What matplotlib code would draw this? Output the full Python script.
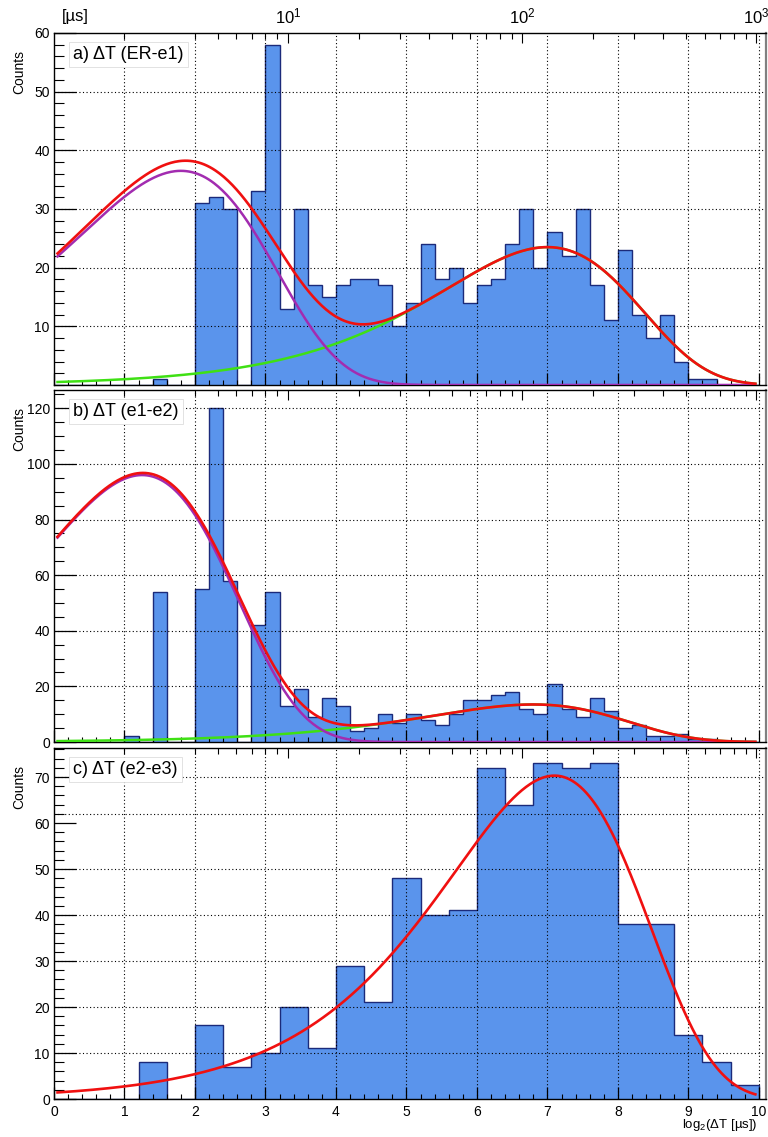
import numpy as np
import matplotlib
matplotlib.use('Agg')
import matplotlib.pyplot as plt
from matplotlib.ticker import MultipleLocator, FixedLocator, NullFormatter

plt.rcParams['font.family'] = ['Liberation Sans', 'DejaVu Sans']
plt.rcParams['mathtext.fontset'] = 'custom'
plt.rcParams['mathtext.rm'] = 'Liberation Sans'
plt.rcParams['mathtext.it'] = 'Liberation Sans:italic'

# histogram contents, log2(dT [us]) on x
edges_fine = np.linspace(0, 10, 51)     # 0.2 wide bins (panels a, b)
edges_coarse = np.linspace(0, 10, 26)   # 0.4 wide bins (panel c)

counts_er_e1 = [0, 0, 0, 0, 0, 0, 0, 1, 0, 0,
                31, 32, 30, 0, 33, 58, 13, 30, 17, 15,
                17, 18, 18, 17, 10, 14, 24, 18, 20, 14,
                17, 18, 24, 30, 20, 26, 22, 30, 17, 11,
                23, 12, 8, 12, 4, 1, 1, 0, 0, 0]
counts_e1_e2 = [0, 0, 0, 0, 0, 2, 0, 54, 0, 0,
                55, 120, 58, 0, 42, 54, 13, 19, 9, 16,
                13, 4, 5, 10, 7, 10, 8, 6, 10, 15,
                15, 17, 18, 12, 10, 21, 12, 9, 16, 11,
                5, 6, 2, 2, 3, 1, 1, 0, 0, 0]
counts_e2_e3 = [0, 0, 0, 8, 0, 16, 7, 10, 20, 11, 29, 21, 48,
                40, 41, 72, 64, 73, 72, 73, 38, 38, 14, 8, 3]

# fit components: (amplitude, log2(tau/us)) for A * (t/tau) * exp(1 - t/tau)
fit_er_e1 = [(36.5, 1.8), (23.5, 7.0)]
fit_e1_e2 = [(96.0, 1.25), (13.5, 6.8)]
fit_e2_e3 = [(70.3, 7.1)]

titles = ['a) ΔT (ER-e1)', 'b) ΔT (e1-e2)', 'c) ΔT (e2-e3)']
ylims = [60, 126.6, 76.3]
yticks = [[10, 20, 30, 40, 50, 60], [0, 20, 40, 60, 80, 100, 120],
          [0, 10, 20, 30, 40, 50, 60, 70]]
yminor = [2, 5, 2]
ygrid = [[10, 20, 30, 40, 50], [20, 40, 60, 80, 100, 120],
         [10, 20, 30, 40, 50, 62, 70]]

us_major = [10, 100, 1000]
us_minor = [2, 4, 5, 6, 7, 8, 9, 20, 30, 40, 50, 60, 70, 80, 90,
            200, 300, 400, 500, 600, 700, 800, 900]

fill_col = '#5a94ec'
edge_col = '#1b2a7a'
red = '#f01010'
purple = '#a22cb0'
green = '#3fe014'
dotted = (0, (1, 2.2))


def decay(x, amp, m):
    r = 2.0 ** (np.asarray(x) - m)
    return amp * r * np.exp(1 - r)


def style_panel(ax, i):
    ax.set_xlim(0, 10.1)
    ax.set_ylim(0, ylims[i])
    ax.xaxis.set_major_locator(MultipleLocator(1))
    ax.xaxis.set_minor_locator(MultipleLocator(0.2))
    ax.yaxis.set_major_locator(FixedLocator(yticks[i]))
    ax.yaxis.set_minor_locator(MultipleLocator(yminor[i]))
    ax.tick_params(axis='x', which='major', direction='in', length=8.6, width=0.9,
                   top=False, labelsize=10, pad=4)
    ax.tick_params(axis='x', which='minor', direction='in', length=3.6, width=0.8, top=False)
    ax.tick_params(axis='y', which='major', direction='in', length=16, width=0.9,
                   right=False, labelsize=10, pad=3)
    ax.tick_params(axis='y', which='minor', direction='in', length=7, width=0.8, right=False)
    if i < 2:
        ax.xaxis.set_major_formatter(NullFormatter())
    for s in ['left', 'bottom', 'top']:
        ax.spines[s].set_linewidth(1.0)
    ax.spines['right'].set_color('#808080')
    ax.spines['right'].set_linewidth(1.6)

    for gx in range(1, 11):
        ax.axvline(gx, color='k', lw=0.8, ls=dotted, zorder=2)
    for gy in ygrid[i]:
        ax.axhline(gy, color='k', lw=0.8, ls=dotted, zorder=2)

    # time axis in us on top (ticks only, labels on the first panel)
    sec = ax.secondary_xaxis('top', functions=(lambda x: 2.0 ** x,
                                               lambda v: np.log2(np.clip(v, 1e-9, None))))
    sec.xaxis.set_major_locator(FixedLocator(us_major))
    sec.xaxis.set_minor_locator(FixedLocator(us_minor))
    sec.tick_params(which='major', direction='in', length=7, width=0.8, pad=5, labelsize=12)
    sec.tick_params(which='minor', direction='in', length=4.3, width=0.8)
    if i == 0:
        sec.set_xticklabels([r'$10^{1}$', r'$10^{2}$', r'$10^{3}$'])
    else:
        sec.xaxis.set_major_formatter(NullFormatter())
    sec.spines['top'].set_visible(False)

    ax.text(0.027, 0.94, titles[i], transform=ax.transAxes, fontsize=13,
            ha='left', va='center', zorder=5,
            bbox=dict(boxstyle='square,pad=0.22', fc='white', ec='#dddddd', lw=0.6))
    ax.text(-0.049, 0.952, 'Counts', transform=ax.transAxes, rotation=90,
            ha='center', va='top', fontsize=10)


fig = plt.figure(figsize=(7.68, 11.37), dpi=100)
left, width = 0.0703, 0.927
ax_a = fig.add_axes([left, 0.6614, width, 0.3096])
ax_b = fig.add_axes([left, 0.3474, width, 0.3096])
ax_c = fig.add_axes([left, 0.0334, width, 0.3087])

xs = np.linspace(0.05, 9.95, 500)
panels = [(ax_a, counts_er_e1, edges_fine, fit_er_e1),
          (ax_b, counts_e1_e2, edges_fine, fit_e1_e2),
          (ax_c, counts_e2_e3, edges_coarse, fit_e2_e3)]

for i, (ax, counts, edges, fit) in enumerate(panels):
    style_panel(ax, i)
    ax.stairs(counts, edges, baseline=0, fill=True, color=fill_col, zorder=1)
    ax.stairs(counts, edges, baseline=0, color=edge_col, lw=1.0, zorder=1.5)
    if len(fit) == 2:
        slow = decay(xs, *fit[1])
        fast = decay(xs, *fit[0])
        ax.plot(xs, slow, color=green, lw=1.8, zorder=3)
        ax.plot(xs, fast, color=purple, lw=1.8, zorder=3.1)
        ax.plot(xs, fast + slow, color=red, lw=1.9, zorder=3.2)
    else:
        ax.plot(xs, decay(xs, *fit[0]), color=red, lw=1.9, zorder=3.2)

fig.text(62 / 768, 1 - 17 / 1137, '[µs]', fontsize=12, ha='left', va='center')
fig.text(758 / 768, 1 - 1125 / 1137, r'log$_2$(ΔT [µs])', fontsize=9.5,
         ha='right', va='center')

fig.savefig('out.png', dpi=100)
